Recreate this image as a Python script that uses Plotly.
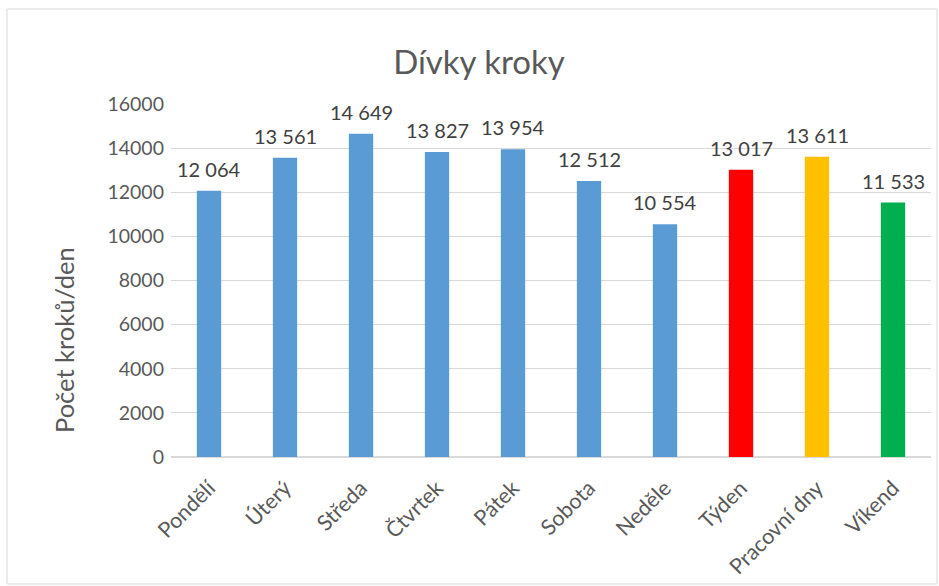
import plotly.graph_objects as go

# Average daily steps for girls
categories = ["Pondělí", "Úterý", "Středa", "Čtvrtek", "Pátek", "Sobota",
              "Neděle", "Týden", "Pracovní dny", "Víkend"]
steps = [12064, 13561, 14649, 13827, 13954, 12512, 10554, 13017, 13611, 11533]
bar_colors = ["#5B9BD5"] * 7 + ["#FF0000", "#FFC000", "#00B050"]
y_ticks = [0, 2000, 4000, 6000, 8000, 10000, 12000, 14000, 16000]

W, H = 939, 586
ML, MR, MT, MB = 171, 8, 104, 129
PW, PH = W - ML - MR, H - MT - MB


def fmt_steps(v):
    # thousands separated by a space, e.g. 12 064
    return f"{v:,}".replace(",", " ")


fig = go.Figure(
    go.Bar(
        x=categories,
        y=steps,
        marker=dict(color=bar_colors, line=dict(width=0)),
        width=0.32,
        cliponaxis=False,
        hoverinfo="x+y",
    )
)

# value labels above each bar
for cat, val in zip(categories, steps):
    fig.add_annotation(
        x=cat, y=val, xref="x", yref="y",
        text=fmt_steps(val), showarrow=False,
        yanchor="bottom", yshift=8,
        font=dict(family="Lato", size=20, color="#404040"),
    )

# y-axis title
fig.add_annotation(
    xref="paper", yref="paper",
    x=(64 - ML) / PW, y=1 - (340 - MT) / PH,
    text="Počet kroků/den", textangle=-90, showarrow=False,
    xanchor="center", yanchor="middle",
    font=dict(family="Lato", size=25.5, color="#595959"),
)

# outer chart frame
fig.add_shape(
    type="rect", xref="paper", yref="paper",
    x0=(7 - ML) / PW, x1=(937 - ML) / PW,
    y0=1 - (584 - MT) / PH, y1=1 + (MT - 9) / PH,
    line=dict(color="#D9D9D9", width=1), fillcolor="rgba(0,0,0,0)", layer="below",
)

fig.update_layout(
    width=W, height=H,
    margin=dict(l=ML, r=MR, t=MT, b=MB),
    paper_bgcolor="white", plot_bgcolor="white",
    showlegend=False,
    title=dict(
        text="Dívky kroky", x=(479 - ML) / PW, xref="paper", xanchor="center",
        y=1 - 62 / H, yref="container", yanchor="middle",
        font=dict(family="Lato", size=33, color="#595959"),
    ),
    font=dict(family="Lato", color="#595959"),
    xaxis=dict(
        tickangle=-45,
        tickfont=dict(family="Lato", size=21.5, color="#595959"),
        ticks="outside", ticklen=9, tickcolor="rgba(0,0,0,0)",
        showgrid=False, showline=False,
        range=[-0.5, 9.5],
    ),
    yaxis=dict(
        range=[0, 16000],
        tickvals=y_ticks,
        ticktext=[str(v) for v in y_ticks],
        tickfont=dict(family="Lato", size=19.5, color="#595959"),
        ticklabelstandoff=6,
        showgrid=True, gridcolor="#D9D9D9", gridwidth=1,
        zeroline=True, zerolinecolor="#D9D9D9", zerolinewidth=2,
        showline=False, ticks="",
    ),
)

fig.write_html("out.html")
